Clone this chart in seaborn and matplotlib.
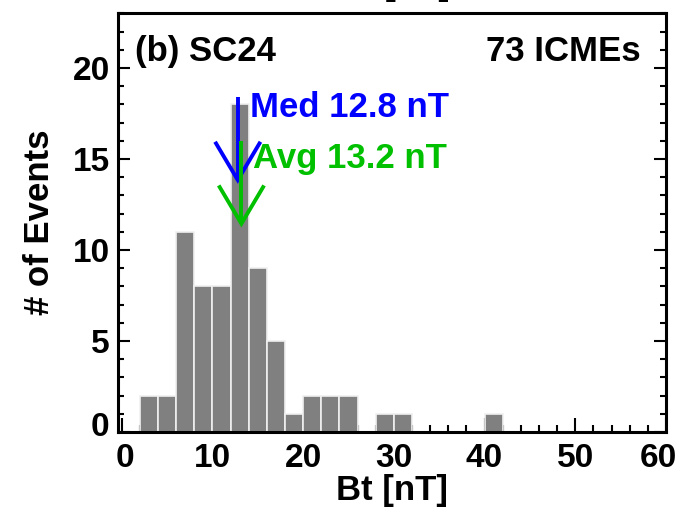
import matplotlib
matplotlib.use("Agg")
import matplotlib.pyplot as plt
import matplotlib.transforms as mtransforms
import seaborn as sns
import numpy as np
import pandas as pd
from matplotlib.ticker import MultipleLocator

# ---- data ----
bin_left = [2, 4, 6, 8, 10, 12, 14, 16, 18, 20, 22, 24, 26, 28, 30, 32, 34, 36, 38, 40]
counts = [2, 2, 11, 8, 8, 18, 9, 5, 1, 2, 2, 2, 0, 1, 1, 0, 0, 0, 0, 1]
bin_width = 2
median_bt = 12.8
mean_bt = 13.2
n_events = 73
panel_label = "(b) SC24"
count_label = "73 ICMEs"
med_label = "Med 12.8 nT"
avg_label = "Avg 13.2 nT"
xlabel = "Bt [nT]"
ylabel = "# of Events"

sns.set_style("white")
plt.rcParams['font.family'] = ['Liberation Sans', 'DejaVu Sans']
plt.rcParams['font.weight'] = 'bold'
for k in ['text.color', 'axes.labelcolor', 'xtick.color', 'ytick.color']:
    plt.rcParams[k] = 'black'

fig = plt.figure(figsize=(6.82, 5.11), dpi=100)
ax = fig.add_axes([118/682, 1-432/511, (666-118)/682, (432-13.5)/511])

df = pd.DataFrame({"Bt": np.array(bin_left, dtype=float) + bin_width/2,
                   "n": np.array(counts, dtype=float)})
sns.histplot(data=df, x="Bt", weights="n", binwidth=bin_width,
             binrange=(bin_left[0], bin_left[-1] + bin_width), ax=ax,
             color="#808080", alpha=1.0, edgecolor="#f0f0f0", linewidth=1.2)

ax.set_xlim(-0.4, 60)
ax.set_ylim(0, 23)

# arrows for median and mean
def draw_arrow(x, tip, color):
    length = 4.55
    head_h = 2.1
    head_w = 2.5
    ax.plot([x, x], [tip, tip + length], color=color, lw=2.8, solid_capstyle='butt')
    ax.plot([x - head_w, x, x + head_w], [tip + head_h, tip, tip + head_h],
            color=color, lw=2.8, solid_joinstyle='miter', solid_capstyle='butt')

draw_arrow(median_bt, 13.85, "#0000ff")
draw_arrow(mean_bt, 11.45, "#00c000")

fs = 25
ax.text(14.1, 17.3, med_label, color="#0000ff", fontsize=fs, fontweight='bold', va='baseline', ha='left')
ax.text(14.47, 14.5, avg_label, color="#00c000", fontsize=fs, fontweight='bold', va='baseline', ha='left')
ax.text(1.44, 20.4, panel_label, color="black", fontsize=fs, fontweight='bold', va='baseline', ha='left')
ax.text(57.2, 20.4, count_label, color="black", fontsize=fs, fontweight='bold', va='baseline', ha='right')

# clipped title remnant at the very top (cut off in the reference as well)
fig.text(394/682, (511+5)/511, xlabel, fontsize=fs, fontweight='bold', ha='center', va='baseline')

ax.set_xlabel(xlabel, fontsize=fs, fontweight='bold', labelpad=0)
ax.set_ylabel(ylabel, fontsize=fs, fontweight='bold', labelpad=12)

ax.xaxis.set_major_locator(MultipleLocator(10))
ax.xaxis.set_minor_locator(MultipleLocator(2))
ax.yaxis.set_major_locator(MultipleLocator(5))
ax.yaxis.set_minor_locator(MultipleLocator(1))

ax.tick_params(axis='x', which='both', direction='in', bottom=True, top=False, width=1.5,
               labelsize=24, pad=8)
ax.tick_params(axis='x', which='major', length=10)
ax.tick_params(axis='x', which='minor', length=5)
ax.tick_params(axis='y', which='both', direction='in', left=True, right=True, width=1.5,
               labelsize=24, pad=6)
ax.tick_params(axis='y', which='major', length=8.5)
ax.tick_params(axis='y', which='minor', length=4)
for lbl in ax.get_xticklabels() + ax.get_yticklabels():
    lbl.set_fontweight('bold')

for s in ax.spines.values():
    s.set_visible(True)
    s.set_linewidth(2.2)
    s.set_color("black")

# edge labels sit slightly inward in the reference
fig.canvas.draw()
def shift(lbl, dx_px, dy_px):
    lbl.set_transform(lbl.get_transform() +
                      mtransforms.ScaledTranslation(dx_px/100, dy_px/100, fig.dpi_scale_trans))
for lbl in ax.get_yticklabels():
    if lbl.get_text() in ("0", "−0"):
        shift(lbl, 0, 8)
for lbl in ax.get_xticklabels():
    if lbl.get_text() == "60":
        shift(lbl, -8, 0)
    elif lbl.get_text() in ("0", "−0"):
        shift(lbl, 3, 0)

fig.savefig("out.png", dpi=100)
